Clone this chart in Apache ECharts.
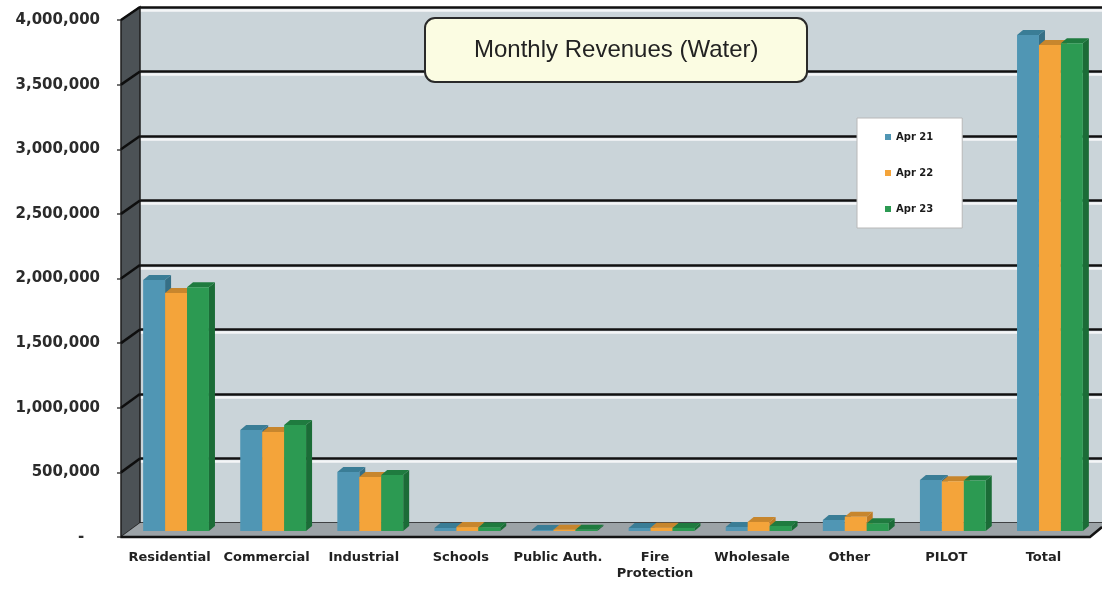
<!DOCTYPE html>
<html>
<head>
<meta charset="utf-8">
<title>Monthly Revenues (Water)</title>
<script src="https://cdn.jsdelivr.net/npm/echarts@6/dist/echarts.min.js"></script>
<style>
  html, body { margin: 0; padding: 0; background: #ffffff; }
  #chart { width: 1102px; height: 590px; }
</style>
</head>
<body>
<div id="chart"></div>
<script>
// Revenue categories and monthly figures (USD)
const categories = ['Residential', 'Commercial', 'Industrial', 'Schools', 'Public Auth.',
                    'Fire\nProtection', 'Wholesale', 'Other', 'PILOT', 'Total'];
const seriesNames = ['Apr 21', 'Apr 22', 'Apr 23'];
const apr21 = [1940000, 781000, 456000, 23000, 8000, 23000, 31000, 85000, 395000, 3833000];
const apr22 = [1840000, 765000, 417000, 30000, 10000, 25000, 70000, 110000, 385000, 3756000];
const apr23 = [1885000, 819000, 433000, 28000, 10000, 24000, 39000, 60000, 390000, 3771000];
const yMax = 4000000;
const yStep = 500000;

// Layout: back wall, bar plane (mid depth) and front plane of the 3-D box
const W = 1102, H = 590;
const backGrid  = { left: 140, right: 0,  top: 7,  bottom: H - 523 };
const barGrid   = { left: 127.5, right: W - 1098.5, top: 13.5, bottom: H - 531 };
const frontGrid = { left: 121, right: 10, top: 20, bottom: H - 537 };

const faces = [
  { front: '#5096b4', top: '#3a7d96', side: '#356f86' },
  { front: '#f4a43a', top: '#c7862d', side: '#bf7b25' },
  { front: '#2c9a52', top: '#1f7b3f', side: '#1b6c37' }
];
const DEPTH_X = 6, DEPTH_Y = 5;

function prismRenderer(idx) {
  return function (params, api) {
    const cat = api.value(0);
    const val = api.value(1);
    const base = api.coord([cat, 0]);
    const top = api.coord([cat, val]);
    const band = api.size([1, 0])[0];
    const w = band * 0.226;
    const x0 = base[0] - 1.5 * w + idx * w;
    const x1 = x0 + w;
    const yb = base[1], yt = top[1];
    const c = faces[idx];
    return {
      type: 'group',
      children: [
        { type: 'polygon', shape: { points: [[x1, yt], [x1 + DEPTH_X, yt - DEPTH_Y], [x1 + DEPTH_X, yb - DEPTH_Y], [x1, yb]] },
          style: { fill: c.side } },
        { type: 'polygon', shape: { points: [[x0, yt], [x0 + DEPTH_X, yt - DEPTH_Y], [x1 + DEPTH_X, yt - DEPTH_Y], [x1, yt]] },
          style: { fill: c.top } },
        { type: 'rect', shape: { x: x0, y: yt, width: w, height: yb - yt },
          style: { fill: c.front } }
      ]
    };
  };
}

const seriesValues = [apr21, apr22, apr23];

const chart = echarts.init(document.getElementById('chart'), null, { renderer: 'canvas' });

const hiddenCat = { type: 'category', data: categories, show: false };

chart.setOption({
  backgroundColor: '#ffffff',
  animation: false,
  color: faces.map(f => f.front),
  title: {
    text: 'Monthly Revenues (Water)',
    left: 425, top: 18,
    padding: [20, 49],
    backgroundColor: '#fbfce2',
    borderColor: '#2a2a2a',
    borderWidth: 2,
    borderRadius: 10,
    textStyle: { fontFamily: 'Liberation Sans, Arial, sans-serif', fontSize: 24, fontWeight: 'normal', color: '#222222' }
  },
  legend: {
    data: seriesNames,
    orient: 'vertical',
    left: 857, top: 118,
    padding: [12, 29, 12, 28],
    itemGap: 22,
    itemWidth: 6, itemHeight: 6,
    icon: 'rect',
    backgroundColor: '#ffffff',
    borderColor: '#b8b8b8',
    borderWidth: 1,
    textStyle: { fontFamily: 'DejaVu Sans', fontSize: 10, fontWeight: 'bold', color: '#1a1a1a', lineHeight: 14 }
  },
  grid: [
    Object.assign({ show: true, backgroundColor: '#cad4d9', borderWidth: 0 }, backGrid),
    barGrid,
    frontGrid
  ],
  xAxis: [
    Object.assign({ gridIndex: 0 }, hiddenCat),
    Object.assign({ gridIndex: 1 }, hiddenCat),
    {
      gridIndex: 2, type: 'category', data: categories,
      axisLine: { show: false }, axisTick: { show: false },
      axisLabel: {
        interval: 0, margin: 13,
        fontFamily: 'DejaVu Sans', fontSize: 13, fontWeight: 'bold', color: '#222222', lineHeight: 16
      }
    }
  ],
  yAxis: [
    {
      gridIndex: 0, type: 'value', min: 0, max: yMax, interval: yStep,
      axisLine: { show: false }, axisTick: { show: false }, axisLabel: { show: false },
      splitLine: { lineStyle: { color: '#111111', width: 2.5, shadowColor: '#f4f6f7', shadowOffsetY: 3, shadowBlur: 0 } }
    },
    { gridIndex: 1, type: 'value', min: 0, max: yMax, show: false, splitLine: { show: false } },
    {
      gridIndex: 2, type: 'value', min: 0, max: yMax, interval: yStep,
      axisLine: { show: false },
      axisTick: { show: true, length: 4, lineStyle: { color: '#444444', width: 1.5 } },
      splitLine: { show: false },
      axisLabel: {
        margin: 21,
        fontFamily: 'DejaVu Sans', fontSize: 15, fontWeight: 'bold', color: '#2b2b2b',
        formatter: v => v === 0 ? '-   ' : v.toLocaleString('en-US')
      }
    }
  ],
  series: seriesNames.map((name, i) => ({
    name: name,
    type: 'custom',
    xAxisIndex: 1, yAxisIndex: 1,
    clip: false,
    z: 3,
    itemStyle: { color: faces[i].front },
    encode: { x: 0, y: 1 },
    renderItem: prismRenderer(i),
    data: categories.map((c, k) => [k, seriesValues[i][k]])
  }))
});

// Side wall, floor and the gridline returns on the side wall, placed from the axes
function drawBox() {
  const backY = v => chart.convertToPixel({ yAxisIndex: 0 }, v);
  const frontY = v => chart.convertToPixel({ yAxisIndex: 2 }, v);
  const xl = frontGrid.left, xb = backGrid.left;
  const xr = W - backGrid.right;
  const floorBack = backY(0), floorFront = frontY(0);
  const els = [];
  els.push({
    type: 'polygon', z: 1,
    shape: { points: [[xl, frontY(yMax)], [xb, backY(yMax)], [xb, floorBack], [xl, floorFront]] },
    style: { fill: '#4c5256', stroke: '#1e1e1e', lineWidth: 1.5 }
  });
  for (let v = yStep; v <= yMax; v += yStep) {
    els.push({
      type: 'line', z: 1,
      shape: { x1: xl, y1: frontY(v), x2: xb, y2: backY(v) },
      style: { stroke: '#0e0e0e', lineWidth: 2.5 }
    });
  }
  els.push({
    type: 'polygon', z: 1,
    shape: { points: [[xb, floorBack], [xr, floorBack], [xr, floorBack + 4], [xr - 12, floorFront], [xl, floorFront]] },
    style: { fill: '#9ca3a7' }
  });
  els.push({
    type: 'polyline', z: 1,
    shape: { points: [[xl, floorFront], [xr - 12, floorFront], [xr, floorBack + 4]] },
    style: { stroke: '#121212', lineWidth: 2.5, fill: null }
  });
  chart.setOption({ graphic: { elements: els } });
}
drawBox();
</script>
</body>
</html>
